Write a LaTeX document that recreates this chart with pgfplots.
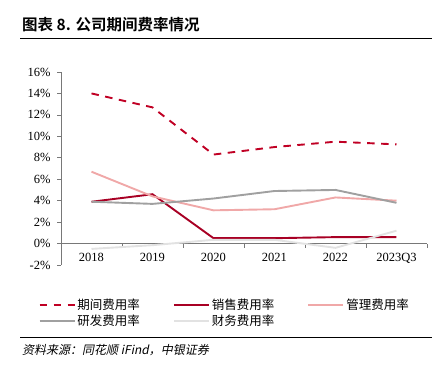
\documentclass[border=0pt]{standalone}
\usepackage{fontspec}
\setmainfont{Liberation Serif}
\newfontfamily\cjk{Noto Sans CJK SC}
\newfontfamily\cjkb{Noto Sans CJK SC Bold}
\newfontfamily\cjki{Noto Sans CJK SC}[FakeSlant=0.2]
\usepackage{pgfplots}
\usepackage{pgfplotstable}
\pgfplotsset{compat=1.18}
\definecolor{cqj}{RGB}{192,0,36}
\definecolor{cxs}{RGB}{168,0,36}
\definecolor{cgl}{RGB}{240,168,168}
\definecolor{cyf}{RGB}{160,160,160}
\definecolor{ccw}{RGB}{226,226,226}
\definecolor{axgray}{RGB}{120,120,120}
\pgfplotstableread{
x qj xs gl yf cw
0 14.0 3.9 6.7 3.9 -0.5
1 12.7 4.6 4.4 3.7 -0.15
2 8.3 0.5 3.1 4.2 0.35
3 9.0 0.5 3.2 4.9 0.35
4 9.5 0.6 4.3 5.0 -0.4
5 9.25 0.6 4.0 3.8 1.2
}\data
\begin{document}
\begin{tikzpicture}
\useasboundingbox (0pt,0pt) rectangle (441pt,369pt);
% title
\node[anchor=west, inner sep=0pt, font=\fontsize{15.5}{17}\selectfont] at (22pt,344pt) {\cjkb 图表 8. 公司期间费率情况};
\draw[black, line width=0.8pt] (20pt,331pt) -- (432pt,331pt);
\draw[black, line width=0.8pt] (20pt,32pt) -- (432pt,32pt);
\node[anchor=west, inner sep=0pt, font=\fontsize{12}{14}\selectfont] at (22pt,19pt) {\cjki 资料来源：同花顺 iFind，中银证券};
\begin{axis}[
  at={(61pt,104pt)}, anchor=south west,
  scale only axis, width=366pt, height=193pt,
  xmin=-0.5, xmax=5.5, ymin=-2, ymax=16,
  axis x line=middle, axis y line=left,
  axis line style={-, axgray, line width=0.8pt},
  xtick={0,1,2,3,4,5},
  xticklabels={2018,2019,2020,2021,2022,2023Q3},
  minor xtick={0.5,1.5,2.5,3.5,4.5,5.5},
  ytick={-2,0,2,4,6,8,10,12,14,16},
  yticklabels={-2\%,0\%,2\%,4\%,6\%,8\%,10\%,12\%,14\%,16\%},
  tick align=outside,
  major tick length=4pt, minor tick length=4pt,
  x tick style={draw=none},
  minor x tick style={draw=axgray, line width=0.6pt},
  y tick style={axgray, line width=0.6pt},
  ticklabel style={font=\fontsize{12.5}{14}\selectfont, text=black},
  xticklabel style={yshift=-2pt},
  yticklabel style={xshift=-3pt},
  clip=false,
  legend columns=3,
  legend cell align=left,
  legend style={draw=none, fill=none, at={(-0.07,-0.155)}, anchor=north west,
    font=\fontsize{12.5}{14}\selectfont\cjk,
    /tikz/every even column/.append style={column sep=31pt},
    row sep=0pt},
  legend image code/.code={\draw[#1] (0pt,0pt) -- (35pt,0pt);},
]
\addplot[cqj, line width=1.9pt, dash pattern=on 7.5pt off 6.5pt] table[x=x,y=qj]{\data};
\addlegendentry{期间费用率}
\addplot[cxs, line width=1.9pt] table[x=x,y=xs]{\data};
\addlegendentry{销售费用率}
\addplot[cgl, line width=1.9pt] table[x=x,y=gl]{\data};
\addlegendentry{管理费用率}
\addplot[cyf, line width=1.9pt] table[x=x,y=yf]{\data};
\addlegendentry{研发费用率}
\addplot[ccw, line width=1.9pt] table[x=x,y=cw]{\data};
\addlegendentry{财务费用率}
\end{axis}
\end{tikzpicture}
\end{document}
